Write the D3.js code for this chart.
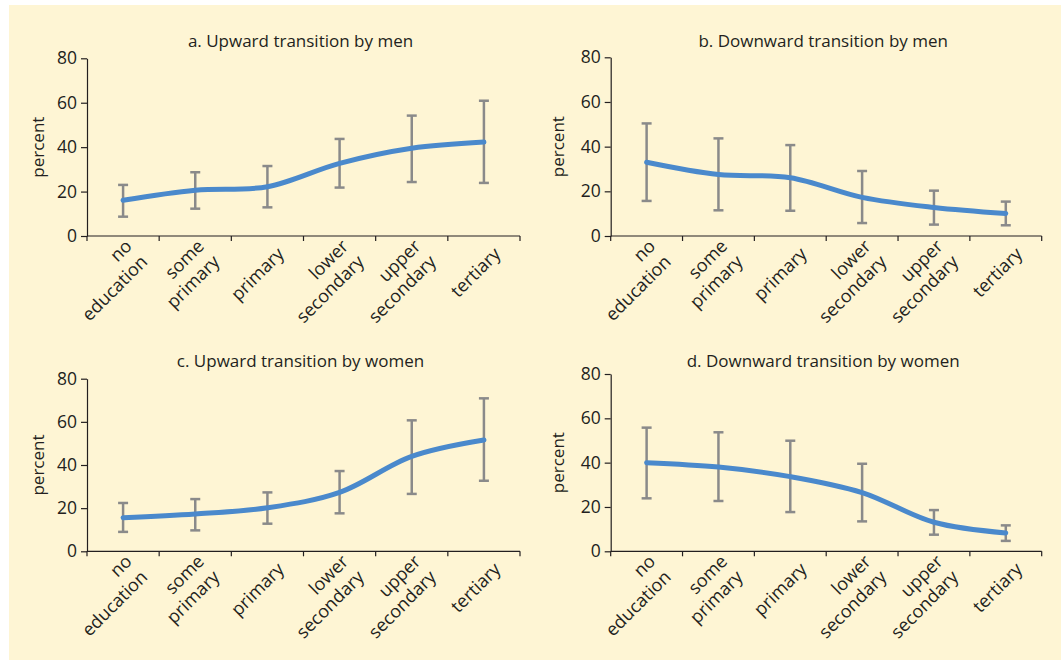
<!DOCTYPE html>
<html>
<head>
<meta charset="utf-8">
<script src="https://cdn.jsdelivr.net/npm/d3@7"></script>
<style>
  html, body { margin: 0; padding: 0; background: #ffffff; }
  svg { display: block; }
  text { font-family: "Open Sans", "Noto Sans", sans-serif; fill: #231f20; }
</style>
</head>
<body>
<svg id="chart" width="1061" height="662"></svg>
<script>
// ---------------- DATA ----------------
const categories = [["no", "education"], ["some", "primary"], ["primary"], ["lower", "secondary"], ["upper", "secondary"], ["tertiary"]];
const categoryKeys = ["no education", "some primary", "primary", "lower secondary", "upper secondary", "tertiary"];
const yTicks = [0, 20, 40, 60, 80];

const titles = ["a. Upward transition by men", "b. Downward transition by men",
                "c. Upward transition by women", "d. Downward transition by women"];

const upMenValue   = [16.1, 20.6, 22.2, 32.7, 39.5, 42.3];
const upMenHigh    = [23.0, 28.7, 31.5, 43.7, 54.2, 60.9];
const upMenLow     = [8.7, 12.3, 12.9, 21.8, 24.3, 23.9];

const downMenValue = [33.0, 27.5, 26.1, 17.3, 12.8, 10.1];
const downMenHigh  = [50.4, 43.7, 40.7, 29.1, 20.3, 15.4];
const downMenLow   = [15.7, 11.5, 11.3, 5.8, 5.1, 4.8];

const upWomenValue = [15.6, 17.3, 20.2, 27.3, 44.0, 51.6];
const upWomenHigh  = [22.4, 24.2, 27.3, 37.2, 60.7, 70.9];
const upWomenLow   = [9.0, 9.7, 12.8, 17.6, 26.6, 32.7];

const downWomenValue = [40.0, 38.0, 33.7, 26.5, 13.1, 8.3];
const downWomenHigh  = [55.8, 53.7, 49.9, 39.5, 18.6, 11.7];
const downWomenLow   = [23.9, 22.7, 17.7, 13.5, 7.5, 4.7];

// ---------------- LAYOUT ----------------
const panels = [
  {title: titles[0], v: upMenValue, hi: upMenHigh, lo: upMenLow, x0: 87, x1: 520, yTop: 58.3, yBot: 236, titleY: 47, labelX: 38},
  {title: titles[1], v: downMenValue, hi: downMenHigh, lo: downMenLow, x0: 610.7, x1: 1041.7, yTop: 57.3, yBot: 236, titleY: 47, labelX: 558},
  {title: titles[2], v: upWomenValue, hi: upWomenHigh, lo: upWomenLow, x0: 87, x1: 520, yTop: 378.7, yBot: 551.3, titleY: 366.5, labelX: 38},
  {title: titles[3], v: downWomenValue, hi: downWomenHigh, lo: downWomenLow, x0: 610.7, x1: 1041.7, yTop: 374, yBot: 551.3, titleY: 366.5, labelX: 558}
];

const svg = d3.select("#chart");
svg.append("rect").attr("x", 9).attr("y", 5).attr("width", 1052).attr("height", 655).attr("fill", "#fef5d4");

const axisColor = "#231f20";
const fontSize = 17;

panels.forEach(p => {
  const g = svg.append("g");
  const x = d3.scaleBand().domain(categoryKeys).range([p.x0, p.x1]).padding(0);
  const y = d3.scaleLinear().domain([0, 80]).range([p.yBot, p.yTop]);
  const cx = k => x(k) + x.bandwidth() / 2;

  // y axis
  const yAxis = d3.axisLeft(y).tickValues(yTicks).tickSize(6).tickSizeOuter(0).tickPadding(4);
  const ya = g.append("g").attr("transform", `translate(${p.x0},0)`).call(yAxis);
  ya.select(".domain").attr("stroke", axisColor).attr("stroke-width", 1.2);
  ya.selectAll(".tick line").attr("stroke", axisColor).attr("stroke-width", 1.2);
  ya.selectAll(".tick text").attr("font-size", 17.5).attr("fill", axisColor)
    .style("font-family", '"Open Sans", sans-serif');

  // x axis line + boundary ticks
  g.append("line").attr("x1", p.x0).attr("x2", p.x1).attr("y1", p.yBot).attr("y2", p.yBot)
    .attr("stroke", axisColor).attr("stroke-width", 1.2);
  const bounds = categoryKeys.map(k => x(k)).concat([p.x1]);
  g.selectAll(".xt").data(bounds).join("line")
    .attr("x1", d => d).attr("x2", d => d).attr("y1", p.yBot).attr("y2", p.yBot + 5)
    .attr("stroke", axisColor).attr("stroke-width", 1.2);

  // category labels (rotated -45°, end-anchored at the band centre)
  categoryKeys.forEach((k, i) => {
    const lines = categories[i];
    const t = g.append("text")
      .attr("transform", `translate(${cx(k)},${p.yBot}) rotate(-45)`)
      .attr("text-anchor", "end").attr("font-size", 18);
    const L = 22;
    lines.forEach((ln, j) => {
      t.append("tspan").attr("x", -1).attr("y", 26 + (j - (lines.length - 1) / 2) * L).text(ln);
    });
  });

  // axis title
  g.append("text").attr("transform", `translate(${p.labelX},${(p.yTop + p.yBot) / 2}) rotate(-90)`)
    .attr("text-anchor", "middle").attr("dy", "0.35em").attr("font-size", fontSize).text("percent");

  // chart title
  g.append("text").attr("x", (p.x0 + p.x1) / 2 - 3).attr("y", p.titleY)
    .attr("text-anchor", "middle").attr("font-size", fontSize).text(p.title);

  // error bars
  const err = g.append("g").attr("stroke", "#8a8a8a").attr("stroke-width", 2.5).attr("fill", "none");
  categoryKeys.forEach((k, i) => {
    const xc = cx(k);
    err.append("line").attr("x1", xc).attr("x2", xc).attr("y1", y(p.hi[i])).attr("y2", y(p.lo[i]));
    err.append("line").attr("x1", xc - 5).attr("x2", xc + 5).attr("y1", y(p.hi[i])).attr("y2", y(p.hi[i]));
    err.append("line").attr("x1", xc - 5).attr("x2", xc + 5).attr("y1", y(p.lo[i])).attr("y2", y(p.lo[i]));
  });

  // line
  const line = d3.line().x((d, i) => cx(categoryKeys[i])).y(d => y(d)).curve(d3.curveCatmullRom.alpha(0.5));
  g.append("path").datum(p.v).attr("d", line).attr("fill", "none")
    .attr("stroke", "#4a89cc").attr("stroke-width", 5).attr("stroke-linecap", "round").attr("stroke-linejoin", "round");
});
</script>
</body>
</html>
